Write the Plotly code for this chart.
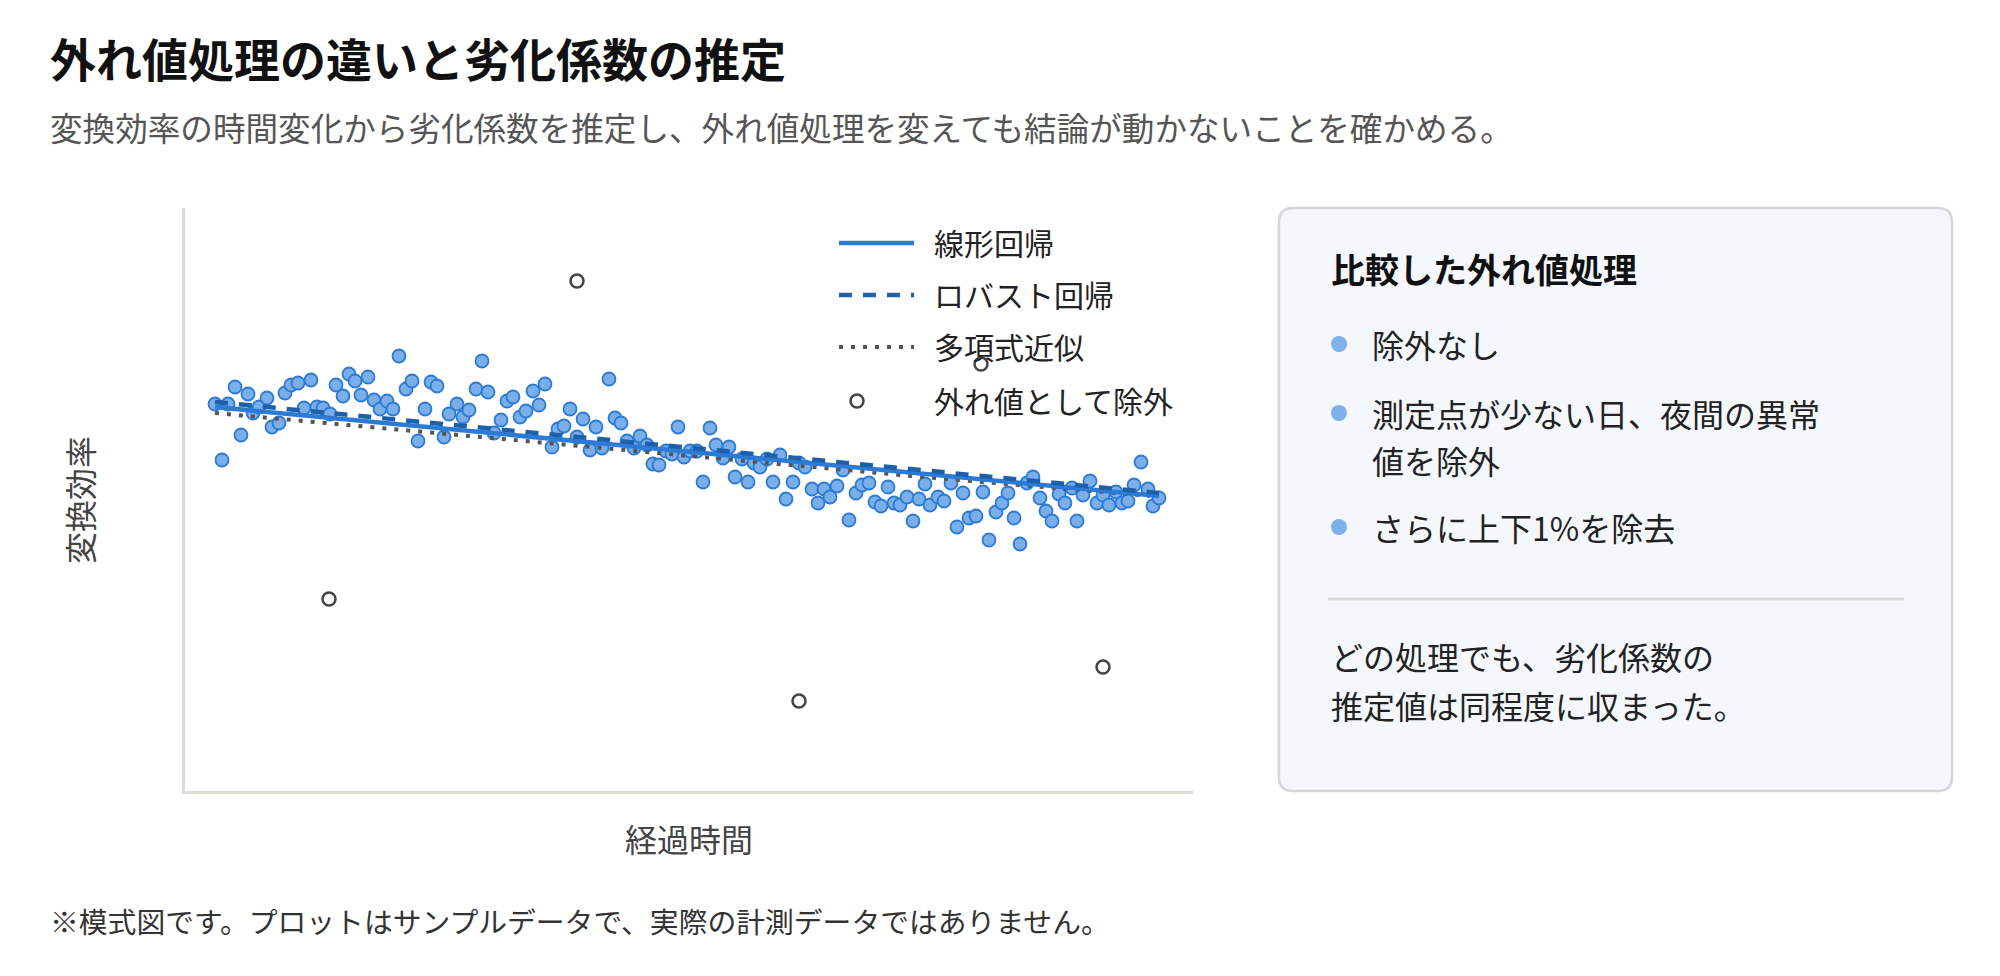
import plotly.graph_objects as go

# 経過時間（日）と変換効率（図から読み取った値、目盛りなしの任意単位）
t_days = [
    3.0, 3.7, 4.3, 5.0, 5.6, 6.3, 6.8, 7.4, 8.2, 8.7, 9.4, 10.0, 10.6, 11.3, 11.9, 12.6,
    13.2, 13.8, 14.5, 15.1, 15.8, 16.4, 17.0, 17.6, 18.3, 18.9, 19.5, 20.2, 20.8, 21.4,
    22.1, 22.7, 23.3, 24.0, 24.6, 25.2, 25.9, 26.4, 27.2, 27.8, 28.4, 29.1, 29.7, 30.3,
    30.9, 31.6, 32.2, 32.8, 33.5, 34.1, 34.8, 35.4, 36.0, 36.7, 37.3, 37.9, 38.5, 39.2,
    39.8, 40.5, 41.1, 41.7, 42.4, 43.0, 43.6, 44.2, 44.9, 45.5, 46.2, 46.8, 47.4, 48.1,
    48.7, 49.3, 49.9, 50.5, 51.2, 51.8, 52.5, 53.1, 53.8, 54.4, 55.0, 55.7, 56.3, 56.9,
    57.5, 58.2, 58.8, 59.5, 60.1, 60.8, 61.4, 62.0, 62.7, 63.3, 63.9, 64.5, 65.2, 65.8,
    66.4, 67.1, 67.7, 68.4, 69.0, 69.6, 70.3, 70.9, 71.5, 72.2, 72.8, 73.4, 74.0, 74.5,
    75.3, 75.9, 76.6, 77.2, 77.8, 78.4, 79.1, 79.8, 80.4, 81.1, 81.7, 82.3, 82.9, 83.5,
    84.2, 84.8, 85.5, 86.1, 86.7, 87.4, 88.0, 88.7, 89.2, 89.8, 90.5, 91.2, 91.8, 92.4,
    93.1, 93.7, 94.3, 94.9, 95.6, 96.3, 96.8, 97.4,
]
eff = [
    38.7, 33.1, 38.7, 40.4, 35.6, 39.7, 37.8, 38.4, 39.3, 36.4, 36.8, 39.8, 40.6, 40.8, 38.3, 41.1,
    38.4, 38.3, 37.7, 40.6, 39.5, 41.7, 41.0, 39.6, 41.4, 39.1, 38.2, 39.0, 38.2, 43.5,
    40.2, 41.0, 35.0, 38.2, 40.9, 40.5, 35.4, 37.7, 38.7, 37.4, 38.1, 40.2, 43.0, 39.9,
    35.8, 37.1, 39.0, 39.4, 37.4, 38.0, 40.0, 38.6, 40.7, 34.4, 36.2, 36.5, 38.2, 35.4,
    37.2, 34.1, 36.4, 34.3, 41.2, 37.3, 36.8, 35.0, 34.3, 35.5, 34.6, 32.7, 32.6, 34.0,
    33.7, 36.4, 33.4, 34.0, 34.0, 30.9, 36.3, 34.6, 33.3, 34.4, 31.4, 33.2, 30.9, 32.8,
    32.4, 33.2, 30.9, 33.6, 29.2, 30.9, 32.8, 32.4, 30.2, 28.8, 30.2, 29.4, 30.5, 32.1,
    27.1, 29.8, 30.6, 30.8, 28.9, 28.5, 30.4, 28.8, 28.6, 29.4, 27.0, 29.2, 30.7, 28.6,
    29.4, 29.0, 30.8, 26.4, 29.8, 27.3, 27.5, 29.9, 25.1, 27.9, 28.8, 29.8, 27.3, 24.7,
    30.8, 31.4, 29.3, 28.0, 27.0, 29.7, 28.8, 30.3, 27.0, 29.6, 31.0, 28.8, 29.6, 28.6,
    29.9, 28.8, 29.0, 30.6, 32.9, 30.2, 28.5, 29.3,
]

# 外れ値として除外した点
out_t = [14.4, 39.2, 61.4, 79.6, 91.8]
out_eff = [19.2, 51.0, 9.0, 42.7, 12.4]

# 各手法の推定線
fit_t = [3.0, 97.4]
linear_eff = [38.4, 29.5]
robust_eff = [38.9, 29.8]
poly_t = [3.0, 26.0, 49.9, 73.8, 96.5]
poly_eff = [37.8, 35.7, 33.6, 31.4, 29.5]

series_names = ["線形回帰", "ロバスト回帰", "多項式近似", "外れ値として除外"]

title = "外れ値処理の違いと劣化係数の推定"
subtitle = "変換効率の時間変化から劣化係数を推定し、外れ値処理を変えても結論が動かないことを確かめる。"
footnote = "※模式図です。プロットはサンプルデータで、実際の計測データではありません。"
panel_title = "比較した外れ値処理"
panel_items = [["除外なし"], ["測定点が少ない日、夜間の異常", "値を除外"], ["さらに上下1%を除去"]]
panel_note = ["どの処理でも、劣化係数の", "推定値は同程度に収まった。"]

FONT = "Noto Sans CJK JP, Noto Sans, sans-serif"
OFF = 8  # ページ本体の余白分
W, H = 2000 - OFF, 976 - OFF
L, R, T, B = 185, 1193, 208, 791  # プロット領域（ページ上の px）


def px(x):
    return (x - L) / (R - L)


def py(y):
    return (B - y) / (B - T)


def rounded_rect(x0, y0, x1, y1, r):
    rx, ry = r / (R - L), r / (B - T)
    X0, X1, Yt, Yb = px(x0), px(x1), py(y0), py(y1)
    return (f"M {X0 + rx},{Yt} L {X1 - rx},{Yt} Q {X1},{Yt} {X1},{Yt - ry} "
            f"L {X1},{Yb + ry} Q {X1},{Yb} {X1 - rx},{Yb} L {X0 + rx},{Yb} "
            f"Q {X0},{Yb} {X0},{Yb + ry} L {X0},{Yt - ry} Q {X0},{Yt} {X0 + rx},{Yt} Z")


def label(text, x, y, size, color="#222222", angle=0, xanchor="left"):
    return dict(text=text, x=px(x), y=py(y), xref="paper", yref="paper",
                xanchor=xanchor, yanchor="middle", showarrow=False, textangle=angle,
                font=dict(family=FONT, size=size, color=color))


fig = go.Figure()

fig.add_trace(go.Scatter(x=t_days, y=eff, mode="markers", showlegend=False,
                         marker=dict(size=13, color="#7AAEE8",
                                     line=dict(color="#2B7BD6", width=1.8))))
fig.add_trace(go.Scatter(x=poly_t, y=poly_eff, mode="lines", name="\u2002" + series_names[2],
                         legendrank=3, legendgroup="c",
                         line=dict(color="#555555", width=4, dash="4px,8px")))
fig.add_trace(go.Scatter(x=fit_t, y=linear_eff, mode="lines", name="\u2002" + series_names[0],
                         legendrank=1, legendgroup="a",
                         line=dict(color="#2B7BD6", width=4.5)))
fig.add_trace(go.Scatter(x=fit_t, y=robust_eff, mode="lines", name="\u2002" + series_names[1],
                         legendrank=2, legendgroup="b",
                         line=dict(color="#1D5FA8", width=4.5, dash="13px,11px")))
# 外れ値の凡例は記号を左寄せにするため別の凡例に置く
fig.add_trace(go.Scatter(x=out_t, y=out_eff, mode="markers", legend="legend2",
                         name="\u2003\u2002\u2009\u2009" + series_names[3],
                         marker=dict(size=13, color="white",
                                     line=dict(color="#444444", width=2.5))))

annotations = [
    label("<b>" + title + "</b>", 48, 57, 46, "#111111"),
    label(subtitle, 48, 127, 32.6, "#555555"),
    label(footnote, 48, 920, 28.8, "#333333"),
    label("変換効率", 79, 500, 32, "#444444", angle=-90, xanchor="center"),
    label("経過時間", 689, 838, 32, "#444444", xanchor="center"),
    label("<b>" + panel_title + "</b>", 1329, 268, 34, "#111111"),
]

shapes = [dict(type="path", xref="paper", yref="paper", layer="below",
               path=rounded_rect(1279, 208, 1952, 791, 14),
               fillcolor="#F4F7FC", line=dict(color="#D6D6D6", width=2.5))]

item_y = [[344], [413, 460], [527]]
for lines, ys in zip(panel_items, item_y):
    shapes.append(dict(type="circle", xref="paper", yref="paper",
                       x0=px(1331), x1=px(1347), y0=py(ys[0] + 8), y1=py(ys[0] - 8),
                       fillcolor="#7EB0EA", line=dict(width=0)))
    for text, y in zip(lines, ys):
        annotations.append(label(text, 1370, y, 32))

shapes.append(dict(type="line", xref="paper", yref="paper",
                   x0=px(1328), x1=px(1904), y0=py(599), y1=py(599),
                   line=dict(color="#D9D9D9", width=3)))
for text, y in zip(panel_note, [656, 705]):
    annotations.append(label(text, 1329, y, 32))

legend_font = dict(family=FONT, size=30, color="#222222")

fig.update_layout(
    width=W, height=H,
    margin=dict(l=L - OFF, r=2000 - R, t=T - OFF, b=976 - B),
    paper_bgcolor="white", plot_bgcolor="white",
    font=dict(family=FONT, color="#222222"),
    xaxis=dict(range=[0, 100.8], showgrid=False, zeroline=False, showticklabels=False,
               ticks="", showline=True, linecolor="#DCDCD6", linewidth=2.5),
    yaxis=dict(range=[0, 58.3], showgrid=False, zeroline=False, showticklabels=False,
               ticks="", showline=True, linecolor="#DCDCD6", linewidth=2.5),
    legend=dict(x=px(834), y=py(217), xanchor="left", yanchor="top",
                bgcolor="rgba(0,0,0,0)", tracegroupgap=10, itemwidth=75,
                font=legend_font),
    legend2=dict(x=px(837), y=py(401), xanchor="left", yanchor="middle",
                 bgcolor="rgba(0,0,0,0)", itemwidth=30, font=legend_font),
    annotations=annotations,
    shapes=shapes,
)

fig.write_html("out.html")
